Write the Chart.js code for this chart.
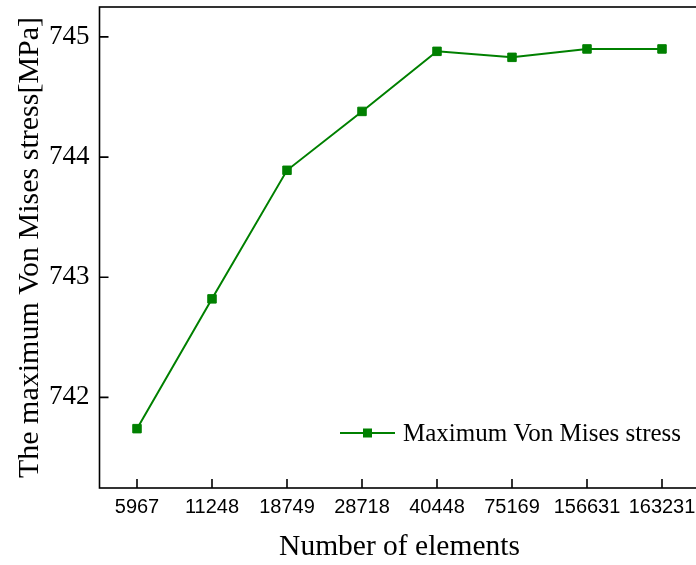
<!DOCTYPE html>
<html>
<head>
<meta charset="utf-8">
<script src="https://cdn.jsdelivr.net/npm/chart.js@4/dist/chart.umd.min.js"></script>
<style>
  html, body { margin: 0; padding: 0; background: #ffffff; overflow: hidden; }
  #wrap { position: relative; width: 696px; height: 565px; overflow: hidden; }
  #box { position: absolute; left: 0; top: 0; width: 710px; height: 565px; }
</style>
</head>
<body>
<div id="wrap"><div id="box"><canvas id="c"></canvas></div></div>
<script>
// Mesh sizes (number of elements) and the resulting peak stress
const elementCounts = ['5967', '11248', '18749', '28718', '40448', '75169', '156631', '163231'];
const maxStress = [741.74, 742.82, 743.89, 744.38, 744.88, 744.83, 744.90, 744.90];
const stressTicks = [742, 743, 744, 745];
const seriesName = 'Maximum Von Mises stress';

const GREEN = '#008000';
const SERIF = '"Liberation Serif", "Times New Roman", serif';
const SANS = '"Liberation Sans", Arial, sans-serif';

// Frame around the plot area plus inward-pointing tick marks
const framePlugin = {
  id: 'frame',
  afterDatasetsDraw(chart) {
    const { ctx, chartArea: a, scales } = chart;
    ctx.save();
    ctx.strokeStyle = '#000';
    ctx.lineWidth = 1.6;
    ctx.strokeRect(a.left, a.top, a.right - a.left, a.bottom - a.top);
    ctx.beginPath();
    scales.y.ticks.forEach((t, i) => {
      const y = scales.y.getPixelForTick(i);
      ctx.moveTo(a.left, y);
      ctx.lineTo(a.left + 9, y);
    });
    scales.x.ticks.forEach((t, i) => {
      const x = scales.x.getPixelForTick(i);
      ctx.moveTo(x, a.bottom);
      ctx.lineTo(x, a.bottom - 9);
    });
    ctx.stroke();
    ctx.restore();
  }
};

// Legend entry drawn inside the plot area (line + square marker + label)
const insideLegend = {
  id: 'insideLegend',
  afterDraw(chart) {
    const { ctx } = chart;
    const ds = chart.data.datasets[0];
    const y = 433, x0 = 340, x1 = 395, xm = (x0 + x1) / 2;
    ctx.save();
    ctx.strokeStyle = ds.borderColor;
    ctx.lineWidth = 2;
    ctx.beginPath();
    ctx.moveTo(x0, y);
    ctx.lineTo(x1, y);
    ctx.stroke();
    ctx.fillStyle = ds.pointBackgroundColor;
    ctx.fillRect(xm - 4.5, y - 4.5, 9, 9);
    ctx.fillStyle = '#000';
    ctx.font = '25px ' + SERIF;
    ctx.textBaseline = 'middle';
    ctx.textAlign = 'left';
    ctx.fillText(ds.label, 403, y + 1);
    ctx.restore();
  }
};

new Chart(document.getElementById('c'), {
  type: 'line',
  data: {
    labels: elementCounts,
    datasets: [{
      label: seriesName,
      data: maxStress,
      borderColor: GREEN,
      backgroundColor: GREEN,
      borderWidth: 2,
      pointStyle: 'rect',
      pointRadius: 6,
      pointBorderWidth: 1,
      pointBackgroundColor: GREEN,
      pointBorderColor: GREEN,
      tension: 0,
      fill: false
    }]
  },
  options: {
    responsive: true,
    maintainAspectRatio: false,
    animation: false,
    layout: { padding: { top: 5, right: 10.5, left: 0, bottom: 0 } },
    plugins: {
      legend: { display: false },
      tooltip: { enabled: false }
    },
    scales: {
      x: {
        type: 'category',
        offset: true,
        grid: { display: false, drawTicks: false },
        border: { display: false },
        ticks: {
          color: '#000',
          font: { family: SANS, size: 20 },
          padding: 7,
          maxRotation: 0,
          autoSkip: false
        },
        title: {
          display: true,
          text: 'Number of elements',
          color: '#000',
          font: { family: SERIF, size: 29.5 },
          padding: { top: 0, bottom: 0 }
        },
        afterFit(scale) {
          scale.height = 77;
          scale.paddingLeft = 0;
          scale.paddingRight = 0;
        }
      },
      y: {
        type: 'linear',
        min: 741.246,
        max: 745.249,
        grid: { display: false, drawTicks: false },
        border: { display: false },
        afterBuildTicks(scale) {
          scale.ticks = stressTicks.map(v => ({ value: v }));
        },
        ticks: {
          color: '#000',
          font: { family: SERIF, size: 27 },
          padding: 10,
          callback: v => String(v)
        },
        title: {
          display: true,
          text: 'The maximum Von Mises stress[MPa]',
          color: '#000',
          font: { family: SERIF, size: 30 },
          padding: { top: 12, bottom: 0 }
        },
        afterFit(scale) {
          scale.width = 99.5;
          scale.paddingTop = 0;
          scale.paddingBottom = 0;
        }
      }
    }
  },
  plugins: [framePlugin, insideLegend]
});
</script>
</body>
</html>
